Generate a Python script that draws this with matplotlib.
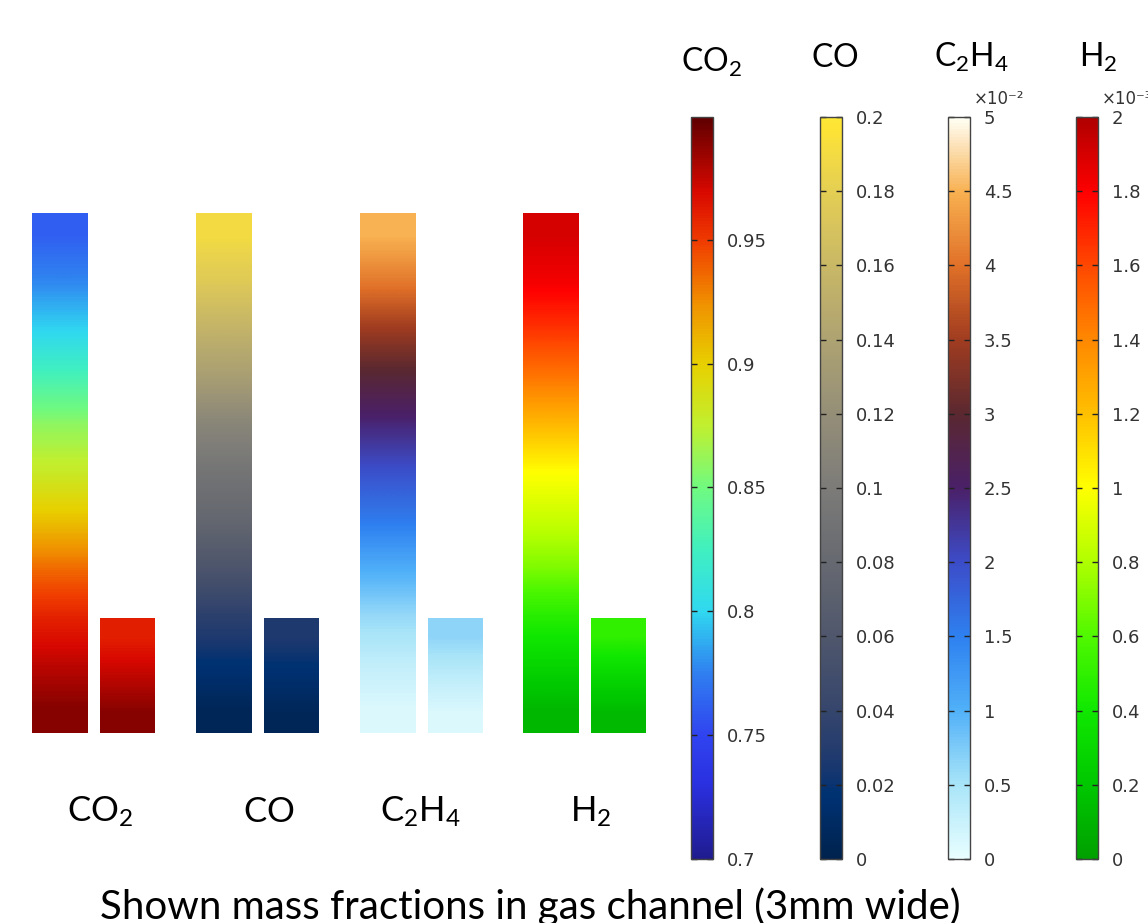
import numpy as np
import matplotlib
matplotlib.use('Agg')
import matplotlib.pyplot as plt
from matplotlib.colors import LinearSegmentedColormap, Normalize
from matplotlib.cm import ScalarMappable

plt.rcParams['mathtext.fontset'] = 'custom'
plt.rcParams['mathtext.rm'] = 'Lato'
plt.rcParams['mathtext.it'] = 'Lato:italic'
plt.rcParams['mathtext.bf'] = 'Lato:bold'

# ---------------- data ----------------
species = [r'$\mathrm{CO_2}$', r'$\mathrm{CO}$', r'$\mathrm{C_2H_4}$', r'$\mathrm{H_2}$']
bar_heights = [1.0, 0.22]          # tall channel section, short channel section

# sampled mass fractions along each bar, top -> bottom
co2_tall = [0.762, 0.778, 0.8, 0.83, 0.86, 0.88, 0.905, 0.935, 0.958, 0.975, 0.99]
co2_short = [0.96, 0.975, 0.99]
co_tall = [0.19, 0.175, 0.155, 0.135, 0.11, 0.092, 0.078, 0.058, 0.035, 0.018, 0.005]
co_short = [0.027, 0.015, 0.005]
c2h4_tall = [4.5, 4.05, 3.45, 2.9, 2.4, 1.95, 1.55, 1.05, 0.62, 0.32, 0.1]   # x1e-2
c2h4_short = [0.65, 0.35, 0.1]
h2_tall = [1.9, 1.82, 1.65, 1.45, 1.22, 1.0, 0.86, 0.7, 0.48, 0.3, 0.12]      # x1e-3
h2_short = [0.5, 0.3, 0.13]

ranges = [(0.7, 0.9995), (0.0, 0.2), (0.0, 5.0), (0.0, 2.0)]
co2_ticks = [0.7, 0.75, 0.8, 0.85, 0.9, 0.95]
co2_ticklabels = ['0.7', '0.75', '0.8', '0.85', '0.9', '0.95']
co_ticks = [0, 0.02, 0.04, 0.06, 0.08, 0.1, 0.12, 0.14, 0.16, 0.18, 0.2]
co_ticklabels = ['0', '0.02', '0.04', '0.06', '0.08', '0.1', '0.12', '0.14', '0.16', '0.18', '0.2']
c2h4_ticks = [0, 0.5, 1, 1.5, 2, 2.5, 3, 3.5, 4, 4.5, 5]
c2h4_ticklabels = ['0', '0.5', '1', '1.5', '2', '2.5', '3', '3.5', '4', '4.5', '5']
h2_ticks = [0, 0.2, 0.4, 0.6, 0.8, 1.0, 1.2, 1.4, 1.6, 1.8, 2.0]
h2_ticklabels = ['0', '0.2', '0.4', '0.6', '0.8', '1', '1.2', '1.4', '1.6', '1.8', '2']
offset_labels = [None, None, '×10⁻²', '×10⁻³']
caption = 'Shown mass fractions in gas channel (3mm wide)'

# ---------------- colormaps ----------------
cmap_co2 = LinearSegmentedColormap.from_list('co2', [
    (0.0, '#201c90'), (0.1, '#2a30e0'), (0.1667, '#3044f0'), (0.25, '#3080f0'),
    (0.3333, '#30d8f0'), (0.4167, '#40f0c0'), (0.5, '#70fa80'), (0.5833, '#c0f030'),
    (0.6667, '#e8d000'), (0.75, '#f09000'), (0.8333, '#f03c00'), (0.9, '#d80800'),
    (1.0, '#600000')])
cmap_co = plt.get_cmap('cividis')
cmap_c2h4 = LinearSegmentedColormap.from_list('c2h4', [
    (0.0, '#e8feff'), (0.1, '#a8e4f8'), (0.2, '#50b0f8'), (0.3, '#2e80f0'),
    (0.4, '#3c4cc8'), (0.5, '#4a2068'), (0.6, '#5a2830'), (0.7, '#a03c20'),
    (0.8, '#e07028'), (0.9, '#f8b050'), (1.0, '#fffff4')])
cmap_h2 = LinearSegmentedColormap.from_list('h2', [
    (0.0, '#00a000'), (0.1, '#00c800'), (0.2, '#10e800'), (0.3, '#50f800'),
    (0.4, '#b0ff00'), (0.5, '#ffff00'), (0.6, '#ffc000'), (0.7, '#ff8800'),
    (0.8, '#ff4800'), (0.9, '#ff0000'), (1.0, '#b00000')])
cmaps = [cmap_co2, cmap_co, cmap_c2h4, cmap_h2]
profiles = [(co2_tall, co2_short), (co_tall, co_short),
            (c2h4_tall, c2h4_short), (h2_tall, h2_short)]
tick_sets = [(co2_ticks, co2_ticklabels), (co_ticks, co_ticklabels),
             (c2h4_ticks, c2h4_ticklabels), (h2_ticks, h2_ticklabels)]

# ---------------- figure ----------------
W, H = 1148, 923
fig = plt.figure(figsize=(W / 100, H / 100), dpi=100)

def px_axes(x0, y_top, x1, y_bot):
    return fig.add_axes([x0 / W, 1 - y_bot / H, (x1 - x0) / W, (y_bot - y_top) / H])

ax = px_axes(0, 213, 660, 733)
ax.set_axis_off()

unit = 163.8
xc0 = 93.25
tall_w, short_w, off = 0.336, 0.33, 0.206
x = np.arange(len(species))

tall_bars = ax.bar(x - off, [bar_heights[0]] * 4, width=tall_w, color='none')
short_bars = ax.bar(x + off, [bar_heights[1]] * 4, width=short_w, color='none')

for i in range(4):
    norm = Normalize(*ranges[i])
    for bar, prof in zip((tall_bars[i], short_bars[i]), profiles[i]):
        arr = np.array(prof)[:, None]
        l = bar.get_x()
        r = l + bar.get_width()
        ax.imshow(arr, cmap=cmaps[i], norm=norm, origin='upper', aspect='auto',
                  interpolation='bilinear', extent=(l, r, 0, bar.get_height()))

ax.set_xlim(-xc0 / unit, (660 - xc0) / unit)
ax.set_ylim(0, 1)

label_dx = [0.04, 0.07, 0.0, 0.04]
for i, s in enumerate(species):
    ax.text(x[i] + label_dx[i], -0.171, s, ha='center', va='baseline',
            fontsize=25, color='black', clip_on=False)

# colorbars
cb_x = [691, 820, 948, 1076]
cb_w = 22
title_dx = [10, 4, 12, 11]
title_base = [72, 67, 67, 67]
for i in range(4):
    cax = px_axes(cb_x[i], 117, cb_x[i] + cb_w, 859)
    cb = fig.colorbar(ScalarMappable(Normalize(*ranges[i]), cmaps[i]), cax=cax)
    ticks, labels = tick_sets[i]
    cb.set_ticks(ticks)
    cb.set_ticklabels(labels)
    cb.outline.set_edgecolor('#444444')
    cb.outline.set_linewidth(1.0)
    cax.tick_params(direction='in', left=True, right=True, length=4, width=1,
                    color='#222222', labelsize=13, labelcolor='#333333', pad=10)
    for t in cax.get_yticklabels():
        t.set_fontfamily('DejaVu Sans')
    fig.text((cb_x[i] + cb_w / 2 + title_dx[i]) / W, 1 - title_base[i] / H,
             species[i], ha='center', va='baseline', fontsize=23, color='black')
    if offset_labels[i]:
        fig.text((cb_x[i] + 26) / W, 1 - 104 / H, offset_labels[i], ha='left',
                 va='baseline', fontsize=12, color='#333333', family='DejaVu Sans')

fig.text(100 / W, 1 - 919 / H, caption, ha='left', va='baseline',
         fontsize=29, color='black', family='Lato')

fig.savefig('out.png', dpi=100)
